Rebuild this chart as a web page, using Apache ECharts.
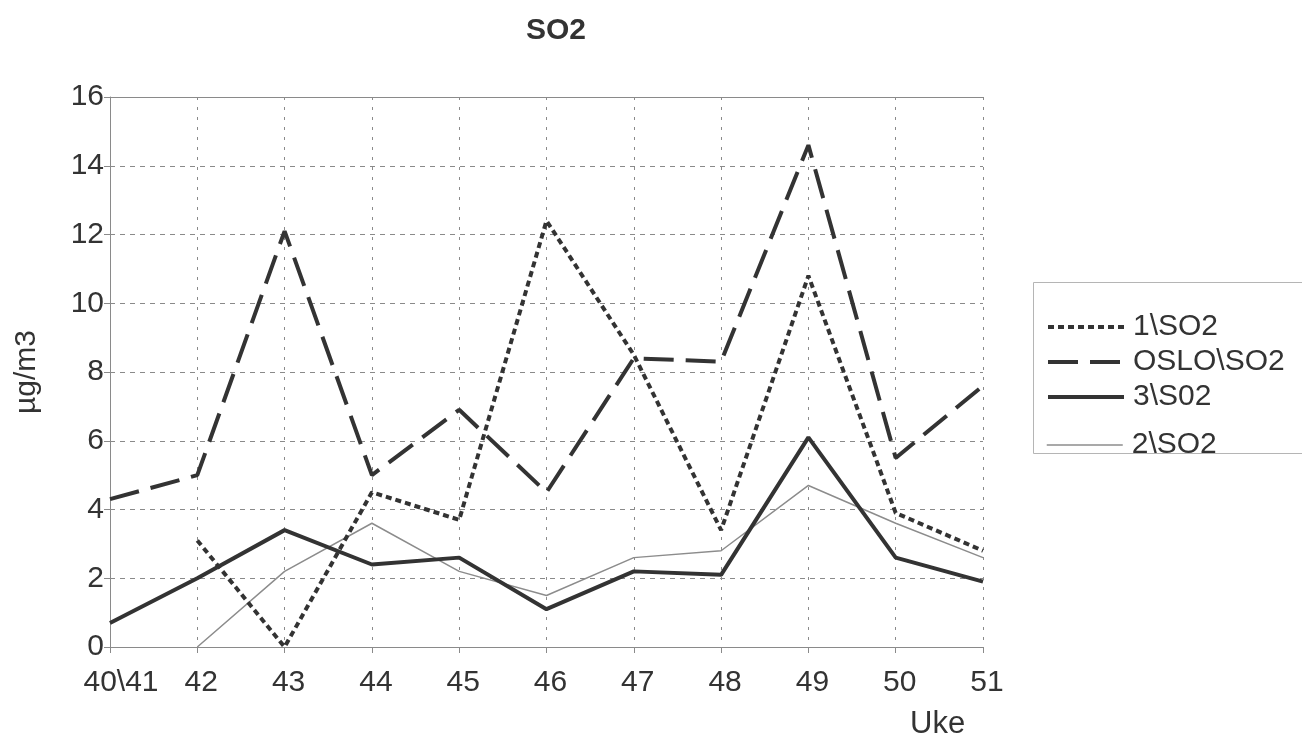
<!DOCTYPE html>
<html>
<head>
<meta charset="utf-8">
<title>SO2</title>
<script src="https://cdn.jsdelivr.net/npm/echarts@6/dist/echarts.min.js"></script>
<style>
  html, body { margin: 0; padding: 0; background: #fff; }
  #chart { width: 1302px; height: 748px; }
</style>
</head>
<body>
<div id="chart"></div>
<script>
// Weeks (Uke) on the category axis
const weeks = ['40\\41', '42', '43', '44', '45', '46', '47', '48', '49', '50', '51'];

// Weekly SO2 levels, µg/m3
const site1 = [null, 3.1, 0, 4.5, 3.7, 12.4, 8.5, 3.4, 10.8, 3.9, 2.8];
const oslo  = [4.3, 5.0, 12.1, 5.0, 6.9, 4.5, 8.4, 8.3, 14.6, 5.5, 7.6];
const site3 = [0.7, 2.0, 3.4, 2.4, 2.6, 1.1, 2.2, 2.1, 6.1, 2.6, 1.9];
const site2 = [null, 0, 2.2, 3.6, 2.2, 1.5, 2.6, 2.8, 4.7, 3.6, 2.6];

const seriesNames = ['1\\SO2', 'OSLO\\SO2', '3\\S02', '2\\SO2'];

const FONT = '"Liberation Sans", Arial, sans-serif';
const INK = '#333';
const THIN = '#8c8c8c';
const GRID_GRAY = '#8a8a8a';

// line look of each series, shared by the plot and the legend keys
const styles = [
  { color: INK,  width: 4,   type: [6, 4] },
  { color: INK,  width: 4,   type: [30, 12] },
  { color: INK,  width: 4,   type: 'solid' },
  { color: THIN, width: 1.5, type: 'solid' }
];

const chart = echarts.init(document.getElementById('chart'), null, { renderer: 'canvas' });

const legendItem = i => ({
  name: seriesNames[i],
  itemStyle: { opacity: 0 },
  lineStyle: Object.assign({}, styles[i], { opacity: 1 })
});

const legendBase = {
  orient: 'vertical',
  left: 1046,
  padding: 0,
  itemGap: 5,
  itemWidth: 76,
  itemHeight: 14,
  textStyle: { fontFamily: FONT, fontSize: 30, color: INK, padding: [0, 0, 0, 4] }
};

const lineSeries = (i, data, z) => ({
  name: seriesNames[i],
  type: 'line',
  data: data,
  symbol: 'none',
  connectNulls: false,
  lineStyle: styles[i],
  itemStyle: { color: styles[i].color },
  z: z
});

chart.setOption({
  backgroundColor: '#fff',
  animation: false,
  title: {
    text: 'SO2',
    left: 551,
    top: 11,
    textAlign: 'center',
    textStyle: { fontFamily: FONT, fontSize: 30, fontWeight: 'bold', color: INK }
  },
  grid: {
    left: 110, right: 319, top: 97, bottom: 101,
    containLabel: false,
    outerBoundsMode: 'none'
  },
  legend: [
    Object.assign({}, legendBase, { top: 312, data: [0, 1, 2].map(legendItem) }),
    Object.assign({}, legendBase, { top: 430, data: [3].map(legendItem) })
  ],
  graphic: [
    {
      // legend frame, running off the right edge
      type: 'rect',
      shape: { x: 1033.5, y: 282.5, width: 600, height: 171 },
      style: { fill: 'none', stroke: '#b5b5b5', lineWidth: 1 },
      z: -1
    },
    {
      type: 'text',
      left: 910,
      top: 709,
      style: { text: 'Uke', font: '31px ' + FONT, fill: INK }
    }
  ],
  xAxis: [
    {
      type: 'category',
      data: weeks,
      boundaryGap: false,
      axisLine: { show: true, lineStyle: { color: GRID_GRAY, width: 1 } },
      axisTick: { show: true, length: 6, interval: 0, lineStyle: { color: GRID_GRAY } },
      axisLabel: {
        interval: 0,
        margin: 21,
        fontFamily: FONT,
        fontSize: 30,
        color: INK,
        padding: [0, 0, 0, 8],
        formatter: (v, i) => (i === 0 ? '{first|' + v + '}' : v),
        rich: {
          first: { fontFamily: FONT, fontSize: 30, color: INK, padding: [0, 0, 0, 14] }
        }
      },
      splitLine: { show: true, interval: 0, lineStyle: { color: GRID_GRAY, type: [3, 7], width: 1 } }
    },
    {
      type: 'category',
      data: weeks,
      boundaryGap: false,
      position: 'top',
      axisLine: { show: true, lineStyle: { color: GRID_GRAY, width: 1 } },
      axisTick: { show: false },
      axisLabel: { show: false },
      splitLine: { show: false }
    }
  ],
  yAxis: {
    type: 'value',
    min: 0,
    max: 16,
    interval: 2,
    name: 'µg/m3',
    nameLocation: 'middle',
    nameGap: 68,
    nameRotate: 90,
    nameTextStyle: { fontFamily: FONT, fontSize: 30, color: INK },
    axisLine: { show: true, lineStyle: { color: GRID_GRAY, width: 1 } },
    axisTick: { show: true, length: 6, lineStyle: { color: GRID_GRAY } },
    axisLabel: { margin: 6, fontFamily: FONT, fontSize: 30, color: INK },
    splitLine: { show: true, lineStyle: { color: GRID_GRAY, type: [5, 5], width: 1 } }
  },
  series: [
    lineSeries(0, site1, 4),
    lineSeries(1, oslo, 3),
    lineSeries(2, site3, 5),
    lineSeries(3, site2, 2)
  ]
});
</script>
</body>
</html>
